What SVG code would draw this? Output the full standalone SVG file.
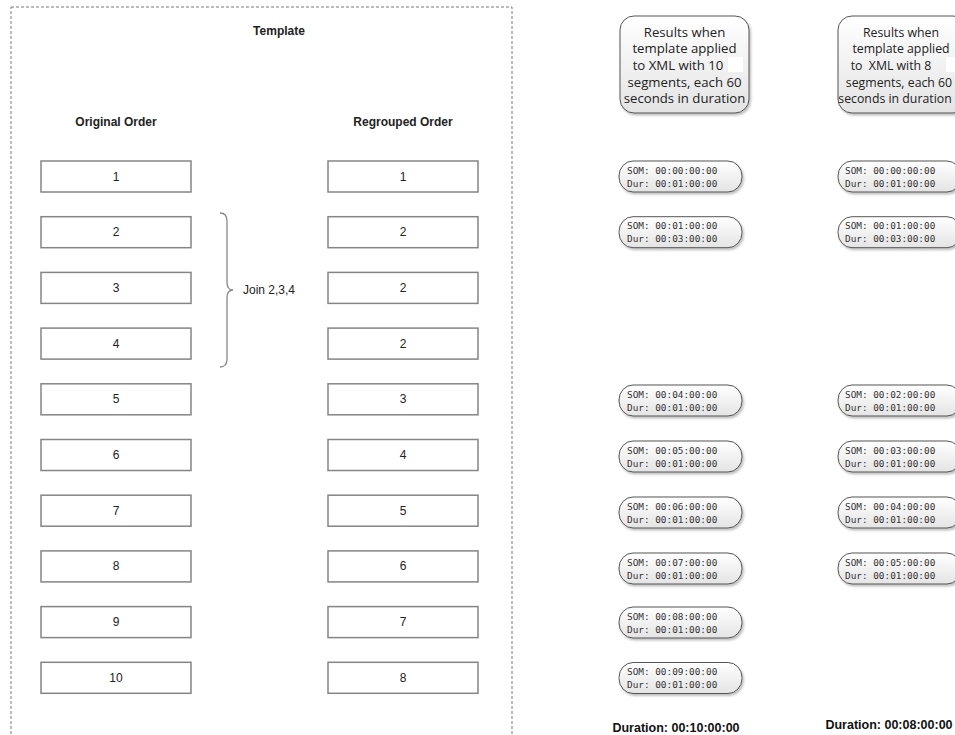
<svg xmlns="http://www.w3.org/2000/svg" width="955" height="735" viewBox="0 0 955 735">
<defs>
<linearGradient id="bg" x1="0" y1="0" x2="0" y2="1"><stop offset="0" stop-color="#ffffff"/><stop offset="1" stop-color="#e4e4e4"/></linearGradient>
<filter id="sh" x="-10%" y="-20%" width="125%" height="150%"><feDropShadow dx="1.5" dy="2" stdDeviation="1.2" flood-color="#000" flood-opacity="0.25"/></filter>
</defs>
<style>
.frame{fill:none;stroke:#7a7a7a;stroke-width:1;stroke-dasharray:3 2}
.box{fill:#fff;stroke:#858585;stroke-width:1.5}
.pill{fill:url(#bg);stroke:#555;stroke-width:1;filter:url(#sh)}
.bub{fill:url(#bg);stroke:#555;stroke-width:1;filter:url(#sh)}
.t{font-family:"Liberation Sans",Arial,sans-serif;font-size:12px;fill:#222;text-anchor:middle}
.b{font-family:"Liberation Sans",Arial,sans-serif;font-size:12px;font-weight:bold;fill:#222;text-anchor:middle}
.r{font-family:"Open Sans","Liberation Sans",sans-serif;font-size:13.2px;fill:#222;text-anchor:middle}
.r2{font-family:"Open Sans","Liberation Sans",sans-serif;font-size:12.3px;fill:#222;text-anchor:middle}
.m{font-family:"DejaVu Sans Mono","Liberation Mono",monospace;font-size:9.4px;fill:#333}
.d{font-family:"Liberation Sans",Arial,sans-serif;font-size:12.5px;font-weight:bold;fill:#111;text-anchor:middle}
</style>
<rect width="955" height="735" fill="#fff"/>
<rect class="frame" x="11" y="7" width="501" height="740"/>
<g id="titles">
<text class="b" x="279" y="35">Template</text>
<text class="b" x="116" y="126">Original Order</text>
<text class="b" x="403" y="126">Regrouped Order</text>
</g>
<g id="original">
<g id="o1"><rect class="box" x="41" y="161" width="150" height="31"/><text class="t" x="116" y="180.5">1</text></g>
<g id="o2"><rect class="box" x="41" y="216.7" width="150" height="31"/><text class="t" x="116" y="236.2">2</text></g>
<g id="o3"><rect class="box" x="41" y="272.4" width="150" height="31"/><text class="t" x="116" y="291.9">3</text></g>
<g id="o4"><rect class="box" x="41" y="328.1" width="150" height="31"/><text class="t" x="116" y="347.6">4</text></g>
<g id="o5"><rect class="box" x="41" y="383.8" width="150" height="31"/><text class="t" x="116" y="403.3">5</text></g>
<g id="o6"><rect class="box" x="41" y="439.5" width="150" height="31"/><text class="t" x="116" y="459">6</text></g>
<g id="o7"><rect class="box" x="41" y="495.2" width="150" height="31"/><text class="t" x="116" y="514.7">7</text></g>
<g id="o8"><rect class="box" x="41" y="550.9" width="150" height="31"/><text class="t" x="116" y="570.4">8</text></g>
<g id="o9"><rect class="box" x="41" y="606.6" width="150" height="31"/><text class="t" x="116" y="626.1">9</text></g>
<g id="o10"><rect class="box" x="41" y="662.3" width="150" height="31"/><text class="t" x="116" y="681.8">10</text></g>
</g>
<g id="regrouped">
<g id="r1"><rect class="box" x="328" y="161" width="150" height="31"/><text class="t" x="403" y="180.5">1</text></g>
<g id="r2"><rect class="box" x="328" y="216.7" width="150" height="31"/><text class="t" x="403" y="236.2">2</text></g>
<g id="r3"><rect class="box" x="328" y="272.4" width="150" height="31"/><text class="t" x="403" y="291.9">2</text></g>
<g id="r4"><rect class="box" x="328" y="328.1" width="150" height="31"/><text class="t" x="403" y="347.6">2</text></g>
<g id="r5"><rect class="box" x="328" y="383.8" width="150" height="31"/><text class="t" x="403" y="403.3">3</text></g>
<g id="r6"><rect class="box" x="328" y="439.5" width="150" height="31"/><text class="t" x="403" y="459">4</text></g>
<g id="r7"><rect class="box" x="328" y="495.2" width="150" height="31"/><text class="t" x="403" y="514.7">5</text></g>
<g id="r8"><rect class="box" x="328" y="550.9" width="150" height="31"/><text class="t" x="403" y="570.4">6</text></g>
<g id="r9"><rect class="box" x="328" y="606.6" width="150" height="31"/><text class="t" x="403" y="626.1">7</text></g>
<g id="r10"><rect class="box" x="328" y="662.3" width="150" height="31"/><text class="t" x="403" y="681.8">8</text></g>
</g>
<g id="join">
<path d="M220,213 Q227,213 227,221 L227,282 Q227,290 233,290 Q227,290 227,298 L227,359 Q227,367 220,367" fill="none" stroke="#888" stroke-width="1.3"/>
<text x="243" y="294" font-family="Liberation Sans, Arial, sans-serif" font-size="12" fill="#222">Join 2,3,4</text>
</g>
<g id="res10">
<rect class="bub" x="620" y="16" width="129" height="97" rx="14"/>
<rect x="728" y="57" width="15" height="15" fill="#fff"/>
<text class="r" x="684.5" y="36.5">Results when</text>
<text class="r" x="684.5" y="53">template applied</text>
<text class="r" x="678" y="69.5">to XML with 10</text>
<text class="r" x="684.5" y="86.5">segments, each 60</text>
<text class="r" x="684.5" y="103">seconds in duration</text>
</g>
<g id="res8">
<rect class="bub" x="838" y="16" width="129" height="97" rx="14"/>
<rect x="946" y="57" width="15" height="15" fill="#fff"/>
<text class="r2" x="901" y="36.5">Results when</text>
<text class="r2" x="901" y="53">template applied</text>
<text class="r2" x="891" y="69.5" xml:space="preserve">to  XML with 8</text>
<text class="r2" x="899" y="86.5">segments, each 60</text>
<text class="r2" x="895" y="103">seconds in duration</text>
</g>
<g id="col10">
<g id="a1"><rect class="pill" x="619" y="161" width="123" height="31" rx="14" ry="15"/><text class="m" x="627" y="173.5">SOM: 00:00:00:00</text><text class="m" x="627" y="186.5">Dur: 00:01:00:00</text></g>
<g id="a2"><rect class="pill" x="619" y="216.7" width="123" height="31" rx="14" ry="15"/><text class="m" x="627" y="229.2">SOM: 00:01:00:00</text><text class="m" x="627" y="242.2">Dur: 00:03:00:00</text></g>
<g id="a3"><rect class="pill" x="619" y="385" width="123" height="31" rx="14" ry="15"/><text class="m" x="627" y="397.5">SOM: 00:04:00:00</text><text class="m" x="627" y="410.5">Dur: 00:01:00:00</text></g>
<g id="a4"><rect class="pill" x="619" y="441" width="123" height="31" rx="14" ry="15"/><text class="m" x="627" y="453.5">SOM: 00:05:00:00</text><text class="m" x="627" y="466.5">Dur: 00:01:00:00</text></g>
<g id="a5"><rect class="pill" x="619" y="497" width="123" height="31" rx="14" ry="15"/><text class="m" x="627" y="509.5">SOM: 00:06:00:00</text><text class="m" x="627" y="522.5">Dur: 00:01:00:00</text></g>
<g id="a6"><rect class="pill" x="619" y="553" width="123" height="31" rx="14" ry="15"/><text class="m" x="627" y="565.5">SOM: 00:07:00:00</text><text class="m" x="627" y="578.5">Dur: 00:01:00:00</text></g>
<g id="a7"><rect class="pill" x="619" y="607" width="123" height="31" rx="14" ry="15"/><text class="m" x="627" y="619.5">SOM: 00:08:00:00</text><text class="m" x="627" y="632.5">Dur: 00:01:00:00</text></g>
<g id="a8"><rect class="pill" x="619" y="662.5" width="123" height="31" rx="14" ry="15"/><text class="m" x="627" y="675">SOM: 00:09:00:00</text><text class="m" x="627" y="688">Dur: 00:01:00:00</text></g>
<text id="dur10" class="d" x="676" y="732">Duration: 00:10:00:00</text>
</g>
<g id="col8">
<g id="b1"><rect class="pill" x="838" y="161" width="123" height="31" rx="14" ry="15"/><text class="m" x="845" y="173.5">SOM: 00:00:00:00</text><text class="m" x="845" y="186.5">Dur: 00:01:00:00</text></g>
<g id="b2"><rect class="pill" x="838" y="216.7" width="123" height="31" rx="14" ry="15"/><text class="m" x="845" y="229.2">SOM: 00:01:00:00</text><text class="m" x="845" y="242.2">Dur: 00:03:00:00</text></g>
<g id="b3"><rect class="pill" x="838" y="385" width="123" height="31" rx="14" ry="15"/><text class="m" x="845" y="397.5">SOM: 00:02:00:00</text><text class="m" x="845" y="410.5">Dur: 00:01:00:00</text></g>
<g id="b4"><rect class="pill" x="838" y="441" width="123" height="31" rx="14" ry="15"/><text class="m" x="845" y="453.5">SOM: 00:03:00:00</text><text class="m" x="845" y="466.5">Dur: 00:01:00:00</text></g>
<g id="b5"><rect class="pill" x="838" y="497" width="123" height="31" rx="14" ry="15"/><text class="m" x="845" y="509.5">SOM: 00:04:00:00</text><text class="m" x="845" y="522.5">Dur: 00:01:00:00</text></g>
<g id="b6"><rect class="pill" x="838" y="553" width="123" height="31" rx="14" ry="15"/><text class="m" x="845" y="565.5">SOM: 00:05:00:00</text><text class="m" x="845" y="578.5">Dur: 00:01:00:00</text></g>
<text id="dur8" class="d" x="889" y="729">Duration: 00:08:00:00</text>
</g>
<g id="connectors"/>
</svg>
